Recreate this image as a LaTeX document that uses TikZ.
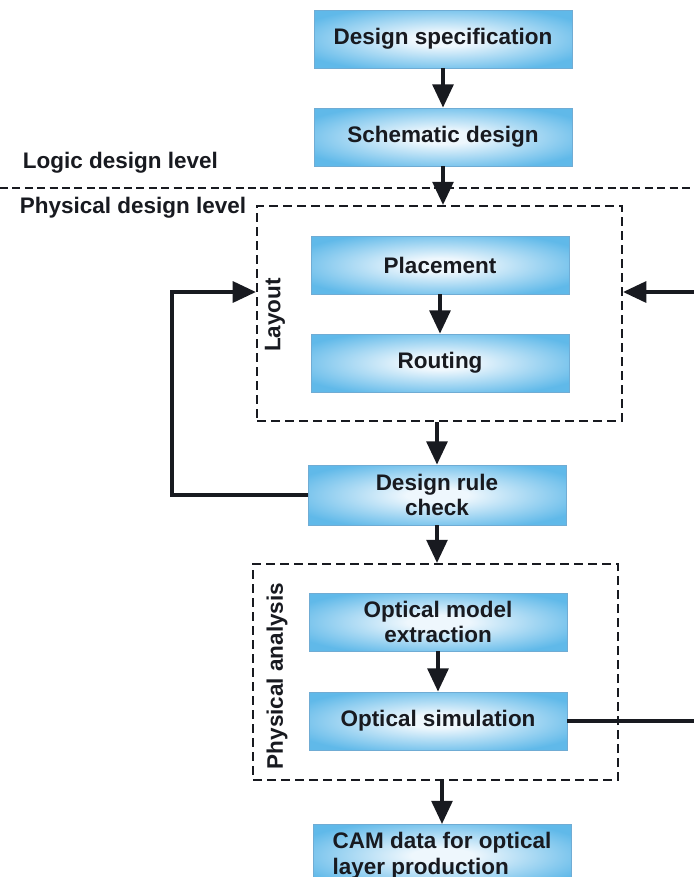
\documentclass[tikz,border=0pt]{standalone}
\usepackage{fontspec}
\setmainfont{Liberation Sans}
\usepackage{tikz}
\usetikzlibrary{arrows.meta, calc}

\definecolor{glowin}{RGB}{238,247,253}
\definecolor{glowout}{RGB}{96,185,233}
\definecolor{boxedge}{RGB}{112,172,212}
\definecolor{inkdark}{RGB}{24,26,32}
\pgfdeclareradialshading{boxglow}{\pgfpoint{0bp}{0bp}}{color(0bp)=(glowin); color(6bp)=(glowin); color(30bp)=(glowout); color(50bp)=(glowout)}

\begin{document}
\begin{tikzpicture}[
  >={Triangle[length=0.58cm, width=0.52cm]},
  stagebox/.style={draw=boxedge, line width=0.6pt, shading=boxglow,
    minimum width=6.45cm, minimum height=1.45cm, inner ysep=0.2cm,
    text=inkdark, align=center, font=\fontsize{16}{18}\selectfont\bfseries},
  groupbox/.style={draw=inkdark, line width=1.5pt,
    dash pattern=on 0.22cm off 0.13cm, minimum width=9.125cm},
  levelline/.style={inkdark, line width=1.5pt, dash pattern=on 0.2cm off 0.11cm},
  levelnote/.style={anchor=base west, text=inkdark,
    font=\fontsize{16}{18}\selectfont\bfseries},
  sidelabel/.style={rotate=90, text=inkdark,
    font=\fontsize{16}{18}\selectfont\bfseries},
  flow/.style={->, line width=2.5pt, inkdark},
  feedback/.style={->, line width=2.6pt, inkdark}
]

% page frame
\useasboundingbox (0,0) rectangle (17.35,-21.925);
\clip (0,0) rectangle (17.35,-21.925);

% Logic design level
\node[stagebox] (spec) at (11.075,-0.975) {Design specification};
\node[stagebox] (schem) at (11.075,-3.425) {Schematic design};
\node[levelnote] (logic) at (0.45,-4.2) {Logic design level};

% split between the two levels
\draw[levelline] (0,-4.7) -- (17.35,-4.7);
\node[levelnote] (physlvl) at (0.375,-5.325) {Physical design level};

% Layout group
\node[groupbox, minimum height=5.375cm] (layout) at (10.9875,-7.8375) {};
\node[sidelabel] (layoutlbl) at (6.875,-7.875) {Layout};
\node[stagebox] (place) at (11.0,-6.625) {Placement};
\node[stagebox] (route) at (11.0,-9.075) {Routing};

% Design rule check
\node[stagebox, minimum height=1.5cm] (drc) at (10.925,-12.375) {Design rule\\check};

% Physical analysis group
\node[groupbox, minimum height=5.4cm] (physan) at (10.8875,-16.8) {};
\node[sidelabel] (physanlbl) at (6.925,-16.9) {Physical analysis};
\node[stagebox] (ome) at (10.95,-15.55) {Optical model\\extraction};
\node[stagebox] (osim) at (10.95,-18.025) {Optical simulation};

% CAM output, runs off the bottom edge
\node[stagebox, anchor=north, align=left] (cam) at (11.05,-20.6) {CAM data for optical\\layer production};

% main flow
\draw[flow] (spec.south) -- (spec.south |- schem.north);
\draw[flow] (schem.south) -- (schem.south |- layout.north);
\draw[flow] (place.south) -- (place.south |- route.north);
\draw[flow] (drc.north |- layout.south) -- (drc.north);
\draw[flow] (drc.south) -- (drc.south |- physan.north);
\draw[flow] (ome.south) -- (ome.south |- osim.north);
\draw[flow] (cam.north |- physan.south) -- (cam.north);

% feedback loops back into the layout
\coordinate (fbleft) at (4.3,-7.3);
\coordinate (fbright) at (18.0,-7.3);
\draw[feedback] (drc.west) -| (fbleft) -- (fbleft -| layout.west);
\draw[feedback] (osim.east) -| (fbright) -- (fbright -| layout.east);

\end{tikzpicture}
\end{document}
